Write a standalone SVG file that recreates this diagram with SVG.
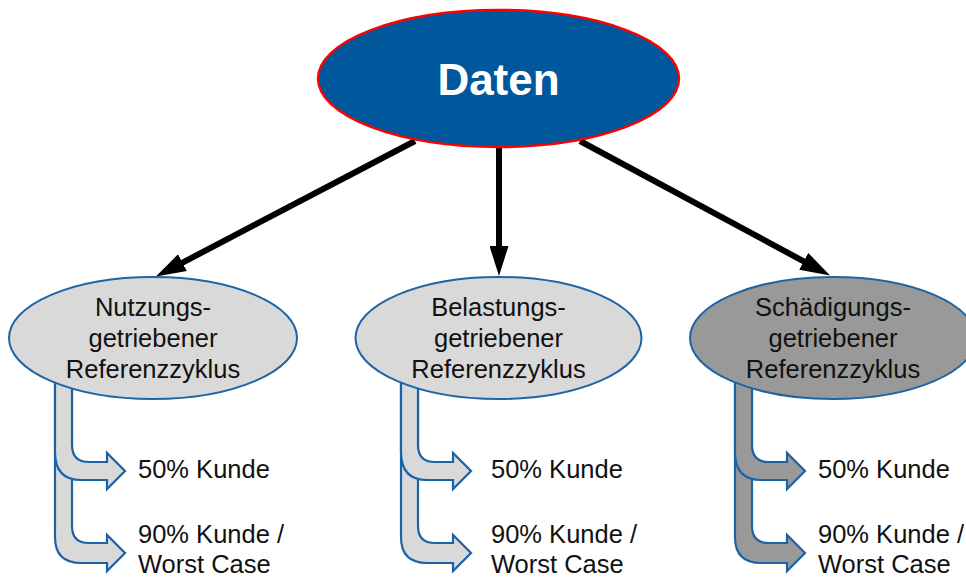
<svg xmlns="http://www.w3.org/2000/svg" xmlns:xlink="http://www.w3.org/1999/xlink" width="966" height="579" viewBox="0 0 966 579">
  <style>
    text { font-family: "Liberation Sans", Arial, sans-serif; fill: #111; }
    .title { font-size: 44px; font-weight: bold; fill: #fff; text-anchor: middle; }
    .cycle { font-size: 25.5px; text-anchor: middle; }
    .item { font-size: 25.5px; }
    .sub { stroke: #1f64a6; stroke-width: 2; }
    .light { fill: #d9d9d9; }
    .dark { fill: #999999; }
    .link { stroke: #000; stroke-width: 6; fill: none; marker-end: url(#head); }
    .fork path { stroke: #1c62a6; stroke-width: 2.2; stroke-linejoin: miter; }
  </style>
  <defs>
    <marker id="head" markerUnits="userSpaceOnUse" viewBox="0 0 30 19" markerWidth="30" markerHeight="19" refX="1" refY="9.5" orient="auto">
      <path d="M0,0 L30,9.5 L0,19 Z" fill="#000"/>
    </marker>
    <!-- two bent arrows sharing one vertical band; upper one drawn last -->
    <g id="fork" class="fork">
      <path d="M0,380 L0,537 Q0,563 26,563 L52,563 L52,571 L70,553 L52,535 L52,543 L34,543 Q17,543 17,526 L17,380 Z"/>
      <path d="M0,380 L0,452 Q0,480 26,480 L52,480 L52,489 L70,471 L52,453 L52,462 L34,462 Q17,462 17,445 L17,380 Z"/>
    </g>
  </defs>

  <rect width="966" height="579" fill="#fff"/>

  <g id="connectors">
    <path class="link" d="M415,141 L181.6,263.1"/>
    <path class="link" d="M499,147 L499,247"/>
    <path class="link" d="M580,141 L804.6,261.8"/>
  </g>

  <g id="node-daten">
    <ellipse cx="498.5" cy="78.5" rx="180.5" ry="68.5" fill="#01579b" stroke="#ff0000" stroke-width="2.5"/>
    <text class="title" x="498.5" y="95">Daten</text>
  </g>

  <g id="node-nutzung">
    <use xlink:href="#fork" href="#fork" x="55" y="0" fill="#d9d9d9"/>
    <ellipse class="sub light" cx="153" cy="338" rx="144" ry="61"/>
    <text class="cycle" x="153" y="316">Nutzungs-</text>
    <text class="cycle" x="153" y="347">getriebener</text>
    <text class="cycle" x="153" y="378">Referenzzyklus</text>
    <text class="item" x="138" y="478">50% Kunde</text>
    <text class="item" x="138" y="543">90% Kunde /</text>
    <text class="item" x="138" y="573">Worst Case</text>
  </g>

  <g id="node-belastung">
    <use xlink:href="#fork" href="#fork" x="401" y="0" fill="#d9d9d9"/>
    <ellipse class="sub light" cx="498.5" cy="338" rx="143" ry="61"/>
    <text class="cycle" x="498.5" y="316">Belastungs-</text>
    <text class="cycle" x="498.5" y="347">getriebener</text>
    <text class="cycle" x="498.5" y="378">Referenzzyklus</text>
    <text class="item" x="491" y="478">50% Kunde</text>
    <text class="item" x="491" y="543">90% Kunde /</text>
    <text class="item" x="491" y="573">Worst Case</text>
  </g>

  <g id="node-schaedigung">
    <use xlink:href="#fork" href="#fork" x="735" y="0" fill="#999999"/>
    <ellipse class="sub dark" cx="833" cy="338" rx="143" ry="61"/>
    <text class="cycle" x="833" y="316">Schädigungs-</text>
    <text class="cycle" x="833" y="347">getriebener</text>
    <text class="cycle" x="833" y="378">Referenzzyklus</text>
    <text class="item" x="818" y="478">50% Kunde</text>
    <text class="item" x="818" y="543">90% Kunde /</text>
    <text class="item" x="818" y="573">Worst Case</text>
  </g>
</svg>
